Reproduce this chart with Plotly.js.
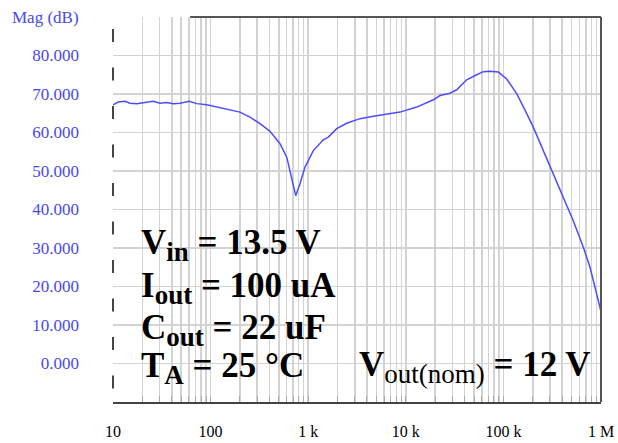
<!DOCTYPE html>
<html>
<head>
<meta charset="utf-8">
<script src="https://cdn.plot.ly/plotly-3.0.1.min.js"></script>
<style>html,body{margin:0;padding:0;background:#fff;}#chart{width:618px;height:443px;}</style>
</head>
<body>
<div id="chart"></div>
<script>
// Frequency (Hz) and magnitude (dB)
const freqHz = [10, 11.3, 13.3, 14.9, 17.5, 20.4, 25.9, 30.3, 35.5, 41.5, 48.6, 60.5, 72.1, 91.2, 124.7,
  158, 200, 253, 321, 406, 514, 603, 678, 745, 824, 927, 1128, 1428, 1607, 1959, 2479, 3393, 4645,
  6368, 8724, 12940, 19140, 22400, 28370, 33200, 42050, 53230, 62230, 72940, 88720, 108100, 136900,
  173300, 202400, 256300, 324400, 411000, 520000, 659000, 771000, 868000, 993000];
const magDb = [67.2, 67.9, 68.1, 67.6, 67.5, 67.8, 68.1, 67.6, 67.8, 67.5, 67.6, 68.1, 67.5, 67.2, 66.5,
  66.0, 65.3, 64.0, 62.3, 60.3, 57.1, 53.6, 48.4, 43.6, 46.7, 51.0, 55.3, 58.1, 58.8, 61.0, 62.4, 63.6, 64.2,
  64.7, 65.3, 66.6, 68.5, 69.6, 70.2, 71.1, 73.7, 75.0, 75.8, 75.9, 75.7, 73.9, 70.1,
  64.9, 61.4, 55.3, 49.3, 43.2, 37.1, 30.2, 25.0, 19.8, 13.8];

const decadeLabels = {10: "10", 100: "100", 1000: "1 k", 10000: "10 k", 100000: "100 k", 1000000: "1 M"};
const yTicks = [0, 10, 20, 30, 40, 50, 60, 70, 80];
const yTitle = "Mag (dB)";
const subOpen = "<sub><span style='font-size:27px'>";
const subClose = "</span></sub>";
const infoLines = ["<b>V" + subOpen + "in" + subClose + " = 13.5 V</b>", "<b>I" + subOpen + "out" + subClose + " = 100 uA</b>",
  "<b>C" + subOpen + "out" + subClose + " = 22 uF</b>", "<b>T" + subOpen + "A" + subClose + " = 25 °C</b>"];
const voutLine = "<b>V</b>" + subOpen + "out(nom)" + subClose + "<b> = 12 V</b>";
const maskedGridHz = [20, 30, 40, 50];

// build log tick positions (1..9 per decade)
const xTickVals = [], xTickText = [];
for (let d = 1; d <= 5; d++) {
  for (let m = 1; m <= 9; m++) {
    const v = m * Math.pow(10, d);
    xTickVals.push(v);
    xTickText.push(decadeLabels[v] || "");
  }
}
xTickVals.push(1e6); xTickText.push(decadeLabels[1e6]);

const blue = "#4848f0";
const serif = "Liberation Serif, Times New Roman, serif";
const dash = "13px,25.5px";

const shapes = [
  {type: "rect", xref: "paper", yref: "paper", x0: 0, x1: 0.15, y0: 0, y1: 1, fillcolor: "#fff", line: {width: 0}, layer: "between"},
  {type: "rect", xref: "paper", yref: "paper", x0: 0, x1: 0.4816, y0: 0, y1: 0.4935, fillcolor: "#fff", line: {width: 0}, layer: "between"},
  {type: "rect", xref: "paper", yref: "paper", x0: 0.49, x1: 1, y0: 0, y1: 0.148, fillcolor: "#fff", line: {width: 0}, layer: "between"}
];
maskedGridHz.forEach(f => shapes.push({type: "line", xref: "x", yref: "paper", x0: Math.log10(f), x1: Math.log10(f),
  y0: 0.969, y1: 0, line: {color: "#c4c4c4", width: 1.5, dash: dash}, layer: "between"}));
shapes.push({type: "line", xref: "paper", yref: "paper", x0: 0, x1: 0, y0: 0.969, y1: 0, line: {color: "#444", width: 2, dash: dash}});
shapes.push({type: "line", xref: "paper", yref: "paper", x0: 1, x1: 1, y0: 0, y1: 1, line: {color: "#555", width: 2}});
shapes.push({type: "line", xref: "paper", yref: "paper", x0: 0.158, x1: 1, y0: 1, y1: 1, line: {color: "#555", width: 2}});

const infoY = [0.408, 0.296, 0.187, 0.088];
const annotations = infoLines.map((t, i) => ({text: t, xref: "paper", yref: "paper", x: 0.0533, y: infoY[i],
  xanchor: "left", yanchor: "middle", showarrow: false, font: {family: serif, size: 35, color: "#000"}}));
annotations.push({text: voutLine, xref: "paper", yref: "paper", x: 0.5, y: 0.09, xanchor: "left", yanchor: "middle",
  showarrow: false, font: {family: serif, size: 35, color: "#000"}});
annotations.push({text: yTitle, xref: "paper", yref: "paper", x: -0.211, y: 1.0, xanchor: "left", yanchor: "middle",
  showarrow: false, font: {family: serif, size: 17, color: blue}});

const data = [{x: freqHz, y: magDb, type: "scatter", mode: "lines", line: {color: "#4d4dff", width: 1.5}, hoverinfo: "skip"}];

const layout = {
  width: 618, height: 443,
  margin: {l: 113, r: 17, t: 17, b: 41},
  paper_bgcolor: "#fff", plot_bgcolor: "#fff",
  showlegend: false,
  xaxis: {type: "log", range: [1, 6], tickmode: "array", tickvals: xTickVals, ticktext: xTickText,
    showgrid: true, gridcolor: "#d3d3d3", gridwidth: 1.5, zeroline: false,
    ticks: "inside", ticklen: 6, tickcolor: "#aaa", tickwidth: 1,
    showline: true, linecolor: "#444", linewidth: 2, mirror: false,
    tickfont: {family: serif, size: 16, color: "#000"}, ticklabelstandoff: 14},
  yaxis: {range: [-10, 90], tickmode: "array", tickvals: yTicks, tickformat: ".3f",
    showgrid: true, gridcolor: "#d3d3d3", gridwidth: 1.5, zeroline: false, showline: false, ticks: "",
    tickfont: {family: serif, size: 17, color: blue}, ticklabelstandoff: 33},
  shapes: shapes,
  annotations: annotations
};

Plotly.newPlot("chart", data, layout, {staticPlot: true, displayModeBar: false});
</script>
</body>
</html>
